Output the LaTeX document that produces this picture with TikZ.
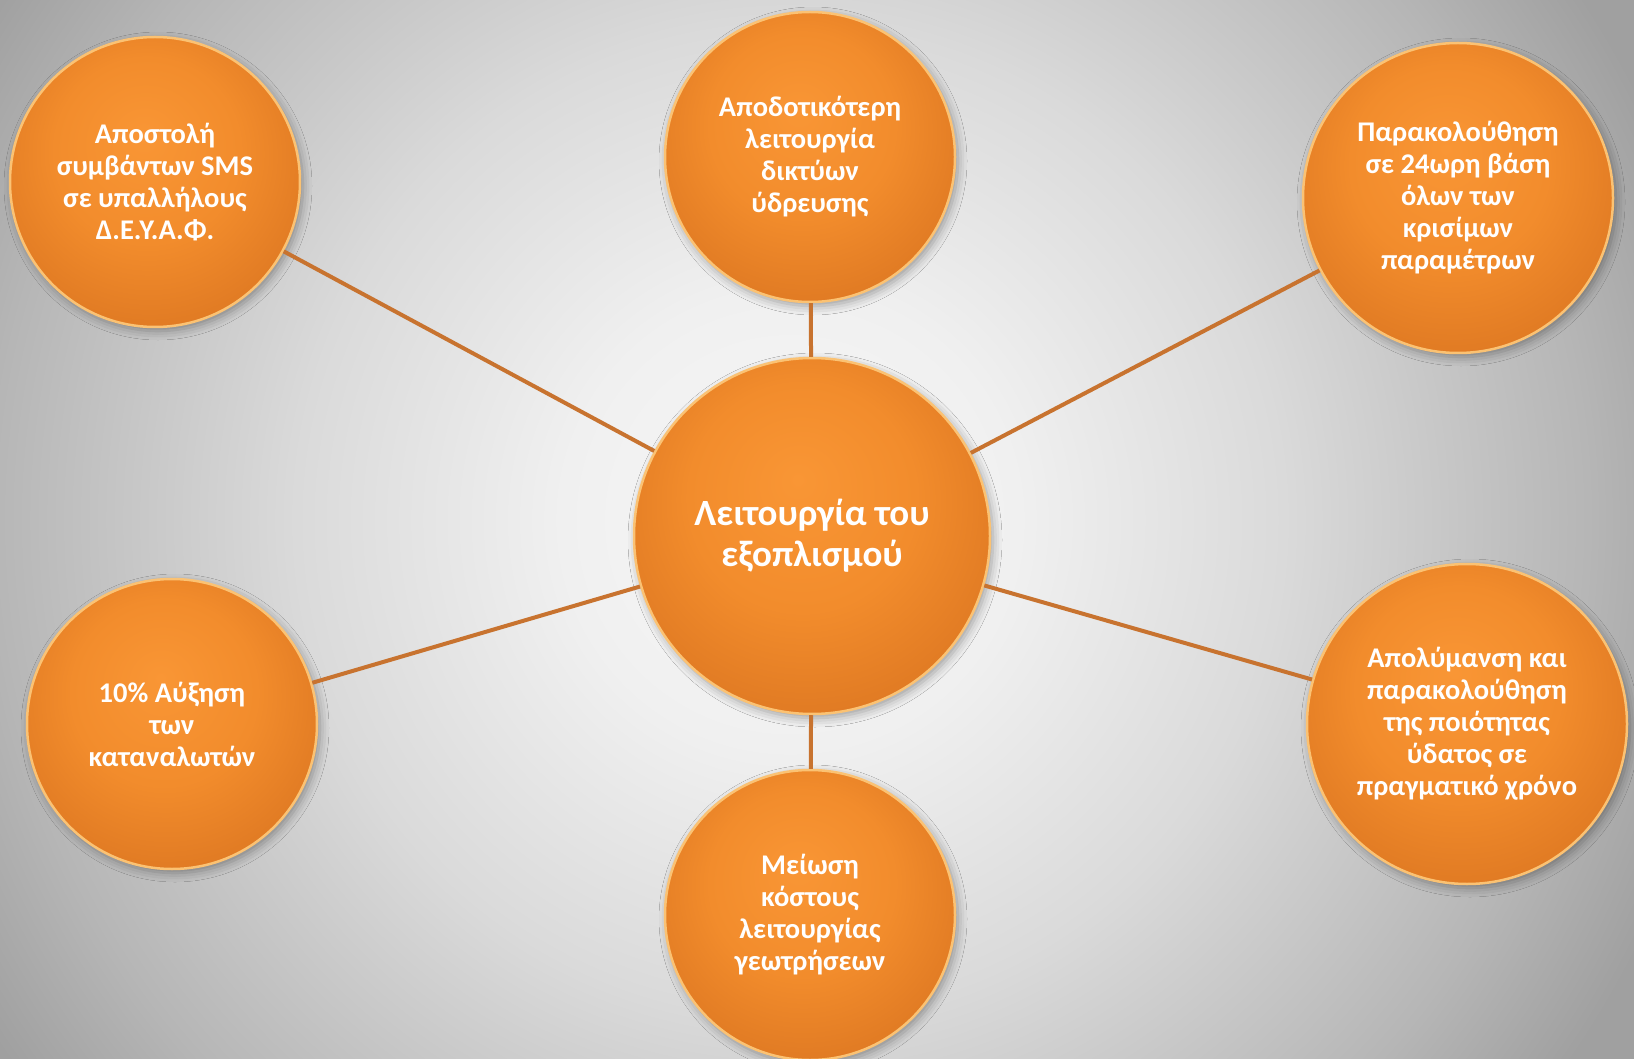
\documentclass[tikz,border=0pt]{standalone}
\usepackage{fontspec}
\setmainfont{Carlito}
\usetikzlibrary{shadows.blur}
\definecolor{bgin}{HTML}{F8F8F8}
\definecolor{bgmida}{HTML}{F0F0F0}
\definecolor{bgmidb}{HTML}{DADADA}
\definecolor{bgmidc}{HTML}{B6B6B6}
\definecolor{bgout}{HTML}{A0A0A0}
\definecolor{orlight}{HTML}{F99635}
\definecolor{ormid}{HTML}{F28C2C}
\definecolor{ordark}{HTML}{DC7621}
\definecolor{orrim}{HTML}{FBC273}
\definecolor{linkc}{HTML}{C8732F}
\pgfdeclareradialshading{bgglow}{\pgfpoint{0bp}{0bp}}{color(0bp)=(bgin); color(6bp)=(bgmida); color(13bp)=(bgmidb); color(21bp)=(bgmidc); color(25bp)=(bgout); color(50bp)=(bgout)}
\pgfdeclareradialshading{orangeball}{\pgfpoint{-2bp}{8bp}}{color(0bp)=(orlight); color(16bp)=(ormid); color(32bp)=(ordark); color(50bp)=(ordark)}
\begin{document}
\begin{tikzpicture}[x=1pt,y=-1pt,
  bubble/.style={circle, shading=orangeball, draw=orrim, line width=2.5pt,
    minimum size=290pt, inner sep=0pt, align=center, text=white,
    font=\bfseries\fontsize{28.5}{32}\selectfont,
    blur shadow={shadow xshift=3pt, shadow yshift=-4pt, shadow blur radius=9pt, shadow opacity=35}},
  link/.style={draw=linkc, line width=4pt}]
  \useasboundingbox (0,0) rectangle (1634,1059);
  \begin{scope}
    \clip (0,0) rectangle (1634,1059);
    \shade[shading=bgglow] (-160,-430) rectangle (1740,1470);
  \end{scope}
  \node[bubble, minimum size=356pt, font=\bfseries\fontsize{37}{40.6}\selectfont] (c) at (812,536) {Λειτουργία του\\εξοπλισμού};
  \node[bubble] (sms) at (155,182) {Αποστολή\\συμβάντων SMS\\σε υπαλλήλους\\Δ.Ε.Υ.Α.Φ.};
  \node[bubble] (net) at (810,157) {Αποδοτικότερη\\λειτουργία\\δικτύων\\ύδρευσης};
  \node[bubble, minimum size=310pt] (mon) at (1458,198) {Παρακολούθηση\\σε 24ωρη βάση\\όλων των\\κρισίμων\\παραμέτρων};
  \node[bubble] (users) at (172,724) {10\% Αύξηση\\των\\καταναλωτών};
  \node[bubble] (cost) at (810,915) {Μείωση\\κόστους\\λειτουργίας\\γεωτρήσεων};
  \node[bubble, minimum size=320pt] (qual) at (1467,724) {Απολύμανση και\\παρακολούθηση\\της ποιότητας\\ύδατος σε\\πραγματικό χρόνο};
  \draw[link] (c) -- (sms);
  \draw[link] (c) -- (net);
  \draw[link] (c) -- (mon);
  \draw[link] (c) -- (users);
  \draw[link] (c) -- (cost);
  \draw[link] (c) -- (qual);
\end{tikzpicture}
\end{document}
